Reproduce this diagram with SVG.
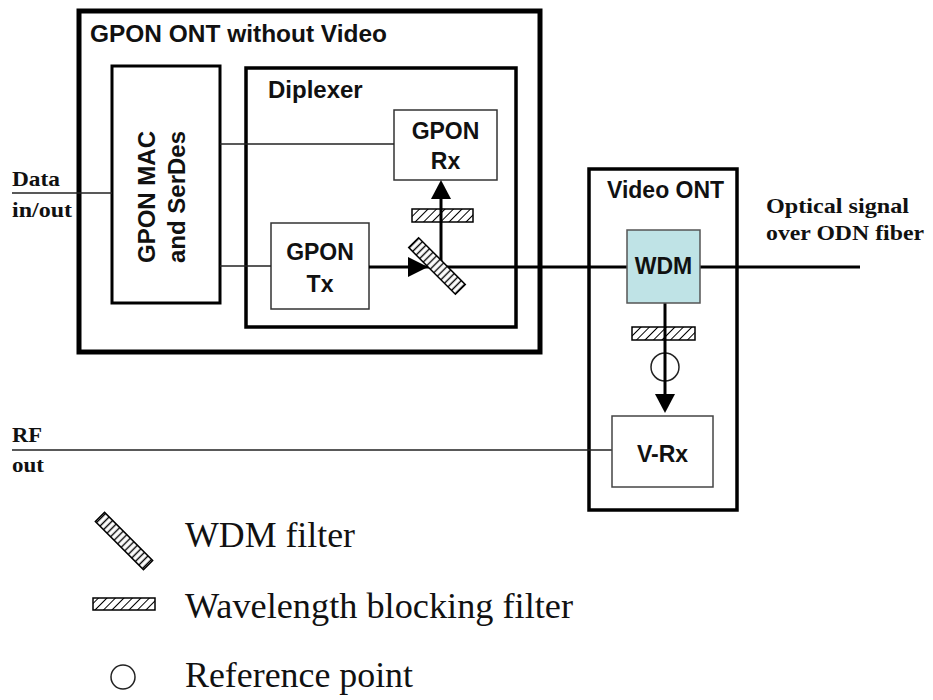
<svg xmlns="http://www.w3.org/2000/svg" width="933" height="700" viewBox="0 0 933 700">
  <style>
    .sans { font-family: "Liberation Sans", Arial, sans-serif; font-weight: bold; fill: #111; }
    .serifb { font-family: "Liberation Serif", "Times New Roman", serif; font-weight: bold; fill: #111; font-size: 22px; }
    .legend { font-family: "Liberation Serif", "Times New Roman", serif; fill: #111; font-size: 35px; }
    .box { fill: #fff; stroke: #000; }
    .thin { fill: none; stroke: #222; stroke-width: 1.5; }
    .fiber { fill: none; stroke: #000; stroke-width: 3; }
    .blockf { fill: url(#hatchBlock); stroke: #000; stroke-width: 1.5; }
    .wdmf { fill: url(#hatchWdm); stroke: #000; stroke-width: 1.5; }
  </style>
  <defs>
    <!-- diagonal hatching for the wavelength blocking filter -->
    <pattern id="hatchBlock" patternUnits="userSpaceOnUse" width="6" height="6" patternTransform="rotate(45)">
      <rect width="6" height="6" fill="#fff"/>
      <line x1="0" y1="0" x2="0" y2="6" stroke="#000" stroke-width="2"/>
    </pattern>
    <!-- rung hatching across the WDM filter -->
    <pattern id="hatchWdm" patternUnits="userSpaceOnUse" width="5" height="5">
      <rect width="5" height="5" fill="#fff"/>
      <line x1="2.5" y1="0" x2="2.5" y2="5" stroke="#000" stroke-width="1.4"/>
    </pattern>
  </defs>

  <!-- GPON ONT without Video -->
  <g id="gpon-ont">
    <rect class="box" x="79" y="11" width="461" height="341" stroke-width="5"/>
    <text class="sans" x="90" y="42" font-size="24" textLength="297" lengthAdjust="spacingAndGlyphs">GPON ONT without Video</text>
  </g>

  <g id="mac-serdes">
    <rect class="box" x="112" y="66" width="108" height="237" stroke-width="3"/>
    <text class="sans" font-size="24" text-anchor="middle" transform="translate(155,197) rotate(-90)">GPON MAC</text>
    <text class="sans" font-size="24" text-anchor="middle" transform="translate(185,197) rotate(-90)">and SerDes</text>
  </g>

  <g id="diplexer">
    <rect class="box" x="246" y="68" width="270" height="259" stroke-width="3.5"/>
    <text class="sans" x="268" y="98" font-size="24">Diplexer</text>
  </g>

  <g id="gpon-rx">
    <rect x="394" y="110" width="103" height="70" fill="#fff" stroke="#333" stroke-width="1.5"/>
    <text class="sans" x="445.5" y="139" font-size="23" text-anchor="middle">GPON</text>
    <text class="sans" x="445.5" y="169" font-size="23" text-anchor="middle">Rx</text>
  </g>

  <g id="gpon-tx">
    <rect x="271" y="223" width="98" height="86" fill="#fff" stroke="#333" stroke-width="1.5"/>
    <text class="sans" x="320" y="260" font-size="23" text-anchor="middle">GPON</text>
    <text class="sans" x="320" y="292" font-size="23" text-anchor="middle">Tx</text>
  </g>

  <g id="video-ont">
    <rect class="box" x="589" y="169" width="148" height="341" stroke-width="3.5"/>
    <text class="sans" x="607" y="198" font-size="23">Video ONT</text>
  </g>

  <!-- connectors -->
  <g id="connectors">
    <line class="thin" x1="12" y1="193" x2="112" y2="193"/>
    <line class="thin" x1="220" y1="144" x2="394" y2="144"/>
    <line class="thin" x1="220" y1="266" x2="271" y2="266"/>
    <line class="thin" x1="12" y1="450" x2="612" y2="450"/>
    <!-- fiber from Tx out to the ODN -->
    <line class="fiber" x1="369" y1="267" x2="860" y2="267"/>
    <polygon points="408,257 428,267 408,277" fill="#000"/>
    <!-- upstream tap to Rx -->
    <rect class="blockf" x="412" y="209" width="61" height="13"/>
    <line class="fiber" x1="441" y1="267" x2="441" y2="196"/>
    <polygon points="431,199 441,180 451,199" fill="#000"/>
    <!-- video drop -->
    <rect class="blockf" x="632" y="327" width="63" height="13"/>
    <circle cx="665" cy="367" r="14" fill="none" stroke="#222" stroke-width="1.5"/>
    <line class="fiber" x1="665" y1="303" x2="665" y2="397"/>
    <polygon points="655,394 665,413 675,394" fill="#000"/>
  </g>

  <!-- WDM filter in the diplexer -->
  <g id="diplexer-wdm-filter">
    <rect class="wdmf" x="-33" y="-7" width="66" height="14" transform="translate(437,266) rotate(45)"/>
  </g>

  <g id="wdm">
    <rect x="627" y="230" width="73" height="73" fill="#bfe3e6" stroke="#555" stroke-width="1.5"/>
    <text class="sans" x="663.5" y="274" font-size="23" text-anchor="middle">WDM</text>
  </g>

  <g id="v-rx">
    <rect x="612" y="416" width="101" height="71" fill="#fff" stroke="#444" stroke-width="1.5"/>
    <text class="sans" x="662.5" y="462" font-size="23" text-anchor="middle">V-Rx</text>
  </g>

  <!-- port labels -->
  <g id="labels">
    <text class="serifb" x="12" y="186" textLength="48" lengthAdjust="spacingAndGlyphs">Data</text>
    <text class="serifb" x="12" y="217" textLength="60" lengthAdjust="spacingAndGlyphs">in/out</text>
    <text class="serifb" x="12" y="442" textLength="30" lengthAdjust="spacingAndGlyphs">RF</text>
    <text class="serifb" x="12" y="472" textLength="32" lengthAdjust="spacingAndGlyphs">out</text>
    <text class="serifb" x="766" y="213" textLength="143" lengthAdjust="spacingAndGlyphs">Optical signal</text>
    <text class="serifb" x="766" y="240" textLength="158" lengthAdjust="spacingAndGlyphs">over ODN fiber</text>
  </g>

  <!-- legend -->
  <g id="legend">
    <rect class="wdmf" x="-34" y="-6.5" width="68" height="13" transform="translate(124,541) rotate(45)"/>
    <text class="legend" x="185" y="547" textLength="170" lengthAdjust="spacingAndGlyphs">WDM filter</text>
    <rect class="blockf" x="93" y="598" width="62" height="12"/>
    <text class="legend" x="185" y="618" textLength="388" lengthAdjust="spacingAndGlyphs">Wavelength blocking filter</text>
    <circle cx="123" cy="677" r="12" fill="none" stroke="#222" stroke-width="1.5"/>
    <text class="legend" x="185" y="687" textLength="228" lengthAdjust="spacingAndGlyphs">Reference point</text>
  </g>
</svg>
